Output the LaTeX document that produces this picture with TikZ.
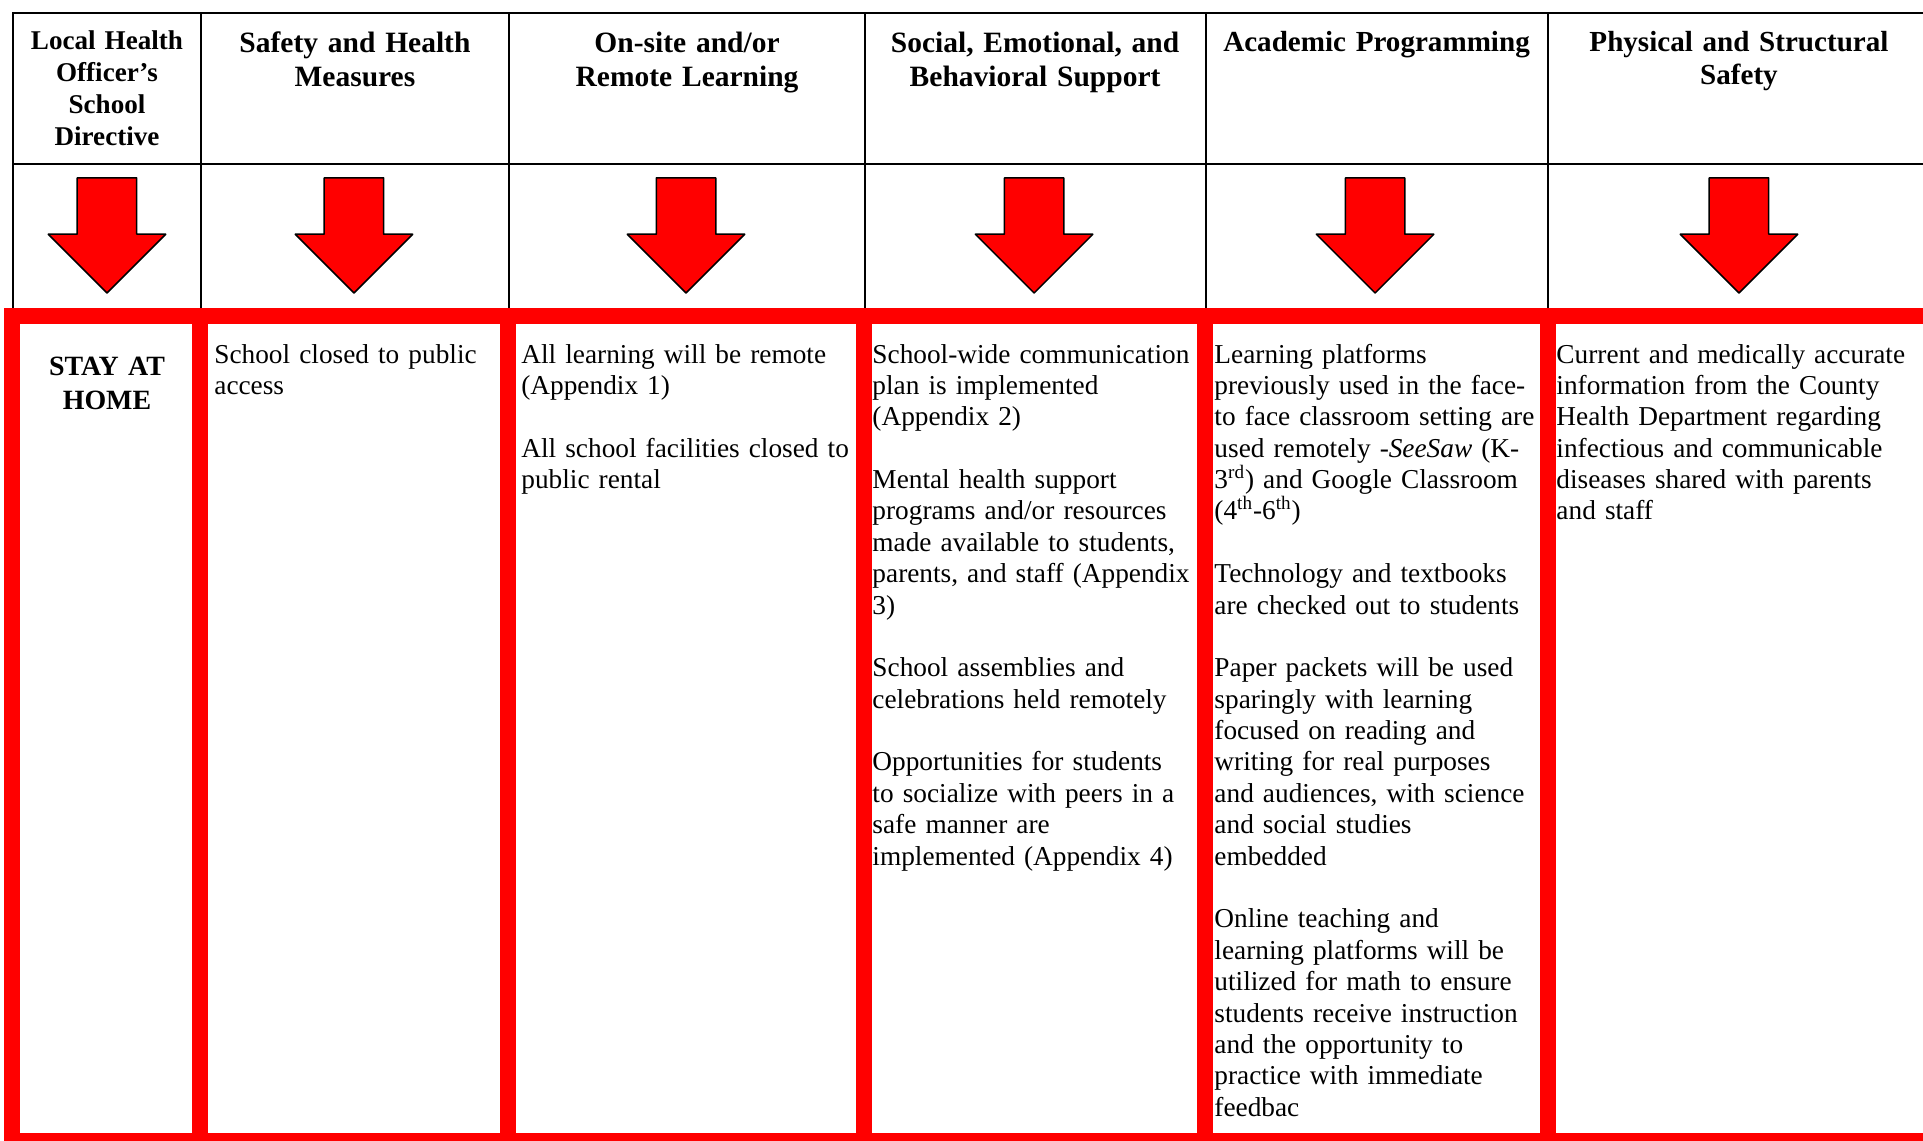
\documentclass[tikz,border=0pt]{standalone}
\usepackage{fontspec}
\setmainfont{Liberation Serif}
\usepackage{tikz}
\usetikzlibrary{shapes.arrows}
\tikzset{
  gridline/.style={draw=black,line width=1pt},
  redrule/.style={draw={rgb:red,255;green,0;blue,0},line width=8pt},
  downarrow/.style={shape=single arrow,shape border rotate=270,draw=black,line width=0.75pt,line join=round,fill={rgb:red,255;green,0;blue,0},minimum height=0.799in,single arrow head extend=0.2014in,single arrow tip angle=90,inner sep=0.2014in,anchor=tip},
  headsmall/.style={text width=1.25in,align=center,anchor=base,inner sep=0pt,font=\bfseries\fontsize{13.6}{15.9}\selectfont},
  headtext/.style={text width=2.4in,align=center,anchor=base,inner sep=0pt,font=\bfseries\fontsize{14.8}{17.2}\selectfont},
  headtimes/.style={text width=2.4in,align=center,anchor=base,inner sep=0pt,font=\bfseries\fontsize{14.6}{16.5}\selectfont},
  bodybold/.style={text width=1.25in,align=center,anchor=base,inner sep=0pt,font=\bfseries\fontsize{14}{17}\selectfont},
  bodytext/.style={text width=2.6in,align=left,anchor=base west,inner sep=0pt,font=\fontsize{13.7}{15.75}\selectfont}
}

\begin{document}
\begin{tikzpicture}

\useasboundingbox (0in,0in) rectangle (13.354in,-7.917in);
\clip (0in,0in) rectangle (13.354in,-7.917in);

% black header table
\draw[gridline] (0.0903in,-2.194in) -- (0.0903in,-0.0903in) -- (13.5in,-0.0903in);
\draw[gridline] (0.0903in,-1.139in) -- (13.5in,-1.139in);
\draw[gridline] (1.396in,-0.0903in) -- (1.396in,-2.194in);
\draw[gridline] (3.535in,-0.0903in) -- (3.535in,-2.194in);
\draw[gridline] (6.007in,-0.0903in) -- (6.007in,-2.194in);
\draw[gridline] (8.372in,-0.0903in) -- (8.372in,-2.194in);
\draw[gridline] (10.75in,-0.0903in) -- (10.75in,-2.194in);

% red frame round the plan row
\draw[redrule] (0.0833in,-2.194in) rectangle (13.5in,-7.924in);
\draw[redrule] (1.389in,-2.194in) -- (1.389in,-7.924in);
\draw[redrule] (3.528in,-2.194in) -- (3.528in,-7.924in);
\draw[redrule] (6.0in,-2.194in) -- (6.0in,-7.924in);
\draw[redrule] (8.368in,-2.194in) -- (8.368in,-7.924in);
\draw[redrule] (10.75in,-2.194in) -- (10.75in,-7.924in);

\path (0.743in,-0.347in) node [headsmall] (hdLocal) {Local Health\\Officer’s\\School\\Directive};

\path (2.465in,-0.366in) node [headtext] (hdSafety) {Safety and Health\\Measures};

\path (4.771in,-0.366in) node [headtext] (hdSite) {On-site and/or\\Remote Learning};

\path (7.188in,-0.366in) node [headtext] (hdSocial) {Social, Emotional, and\\Behavioral Support};

\path (9.559in,-0.361in) node [headtimes] (hdAcademic) {Academic Programming};

\path (12.076in,-0.361in) node [headtimes] (hdPhysical) {Physical and Structural\\Safety};

\path (0.743in,-2.042in) node [downarrow] (arrLocal) {};
\path (2.458in,-2.042in) node [downarrow] (arrSafety) {};
\path (4.764in,-2.042in) node [downarrow] (arrSite) {};
\path (7.181in,-2.042in) node [downarrow] (arrSocial) {};
\path (9.549in,-2.042in) node [downarrow] (arrAcademic) {};
\path (12.076in,-2.042in) node [downarrow] (arrPhysical) {};

\path (0.743in,-2.611in) node [bodybold] (bodyLocal) {STAY AT\\HOME};

\path (1.486in,-2.521in) node [bodytext] (bodySafety) {School closed to public\\access};

\path (3.618in,-2.521in) node [bodytext] (bodySite) {All learning will be remote\\(Appendix 1)\\[\baselineskip]All school facilities closed to\\public rental};

\path (6.056in,-2.521in) node [bodytext] (bodySocial) {School-wide communication\\plan is implemented\\(Appendix 2)\\[\baselineskip]Mental health support\\programs and/or resources\\made available to students,\\parents, and staff (Appendix\\3)\\[\baselineskip]School assemblies and\\celebrations held remotely\\[\baselineskip]Opportunities for students\\to socialize with peers in a\\safe manner are\\implemented (Appendix 4)};

\path (8.431in,-2.521in) node [bodytext] (bodyAcademic) {Learning platforms\\previously used in the face-\\to face classroom setting are\\used remotely -\textit{SeeSaw} (K-\\3\textsuperscript{rd}) and Google Classroom\\(4\textsuperscript{th}-6\textsuperscript{th})\\[\baselineskip]Technology and textbooks\\are checked out to students\\[\baselineskip]Paper packets will be used\\sparingly with learning\\focused on reading and\\writing for real purposes\\and audiences, with science\\and social studies\\embedded\\[\baselineskip]Online teaching and\\learning platforms will be\\utilized for math to ensure\\students receive instruction\\and the opportunity to\\practice with immediate\\feedbac};

\path (10.806in,-2.521in) node [bodytext] (bodyPhysical) {Current and medically accurate\\information from the County\\Health Department regarding\\infectious and communicable\\diseases shared with parents\\and staff};

\end{tikzpicture}
\end{document}
